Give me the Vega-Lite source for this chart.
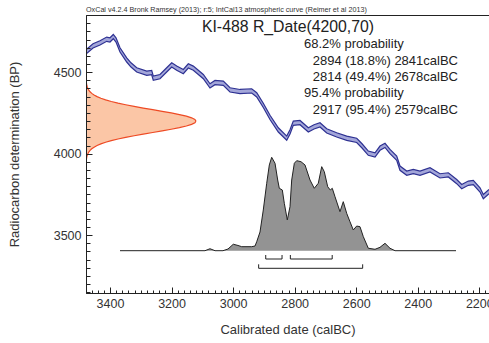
{
  "$schema": "https://vega.github.io/schema/vega-lite/v6.json",
  "width": 403,
  "height": 278,
  "autosize": "none",
  "padding": {"left": 86, "top": 15, "right": 0, "bottom": 50},
  "background": "white",
  "title": {"text": "OxCal v4.2.4 Bronk Ramsey (2013); r:5; IntCal13 atmospheric curve (Reimer et al 2013)", "anchor": "start", "frame": "group", "fontSize": 7.2, "font": "Liberation Sans", "fontWeight": "normal", "color": "#333", "offset": 1},
  "datasets": {
    "curve": [
      {"yr": 3478.0, "bp": 4624.5, "e": 13}, {"yr": 3455.2, "bp": 4661.4, "e": 13}, {"yr": 3432.5, "bp": 4679.8, "e": 13},
      {"yr": 3410.7, "bp": 4702.5, "e": 13}, {"yr": 3400.0, "bp": 4698.2, "e": 13}, {"yr": 3389.3, "bp": 4718.4, "e": 13},
      {"yr": 3380.5, "bp": 4698.2, "e": 13}, {"yr": 3367.5, "bp": 4636.8, "e": 13}, {"yr": 3345.7, "bp": 4575.5, "e": 13},
      {"yr": 3331.8, "bp": 4544.8, "e": 13}, {"yr": 3313.2, "bp": 4514.1, "e": 13}, {"yr": 3280.7, "bp": 4493.9, "e": 13},
      {"yr": 3264.5, "bp": 4497.5, "e": 13}, {"yr": 3259.3, "bp": 4463.2, "e": 13}, {"yr": 3237.6, "bp": 4473.0, "e": 13},
      {"yr": 3215.8, "bp": 4514.1, "e": 13}, {"yr": 3199.5, "bp": 4544.8, "e": 13}, {"yr": 3183.3, "bp": 4524.5, "e": 13},
      {"yr": 3161.8, "bp": 4503.7, "e": 13}, {"yr": 3145.6, "bp": 4538.7, "e": 13}, {"yr": 3129.3, "bp": 4524.5, "e": 13},
      {"yr": 3096.8, "bp": 4473.0, "e": 13}, {"yr": 3075.1, "bp": 4416.0, "e": 13}, {"yr": 3058.8, "bp": 4436.2, "e": 13},
      {"yr": 3031.8, "bp": 4432.5, "e": 13}, {"yr": 3010.1, "bp": 4391.4, "e": 13}, {"yr": 2977.6, "bp": 4381.0, "e": 13},
      {"yr": 2939.6, "bp": 4385.3, "e": 13}, {"yr": 2923.3, "bp": 4360.7, "e": 13}, {"yr": 2901.9, "bp": 4296.3, "e": 13},
      {"yr": 2880.1, "bp": 4222.7, "e": 13}, {"yr": 2853.1, "bp": 4146.0, "e": 13}, {"yr": 2825.8, "bp": 4095.1, "e": 13},
      {"yr": 2815.1, "bp": 4133.7, "e": 13}, {"yr": 2804.4, "bp": 4187.1, "e": 13}, {"yr": 2782.6, "bp": 4190.8, "e": 13},
      {"yr": 2755.6, "bp": 4146.0, "e": 13}, {"yr": 2737.1, "bp": 4164.4, "e": 13}, {"yr": 2717.6, "bp": 4176.7, "e": 13},
      {"yr": 2695.8, "bp": 4139.9, "e": 13}, {"yr": 2663.4, "bp": 4115.3, "e": 13}, {"yr": 2630.9, "bp": 4095.1, "e": 13},
      {"yr": 2598.4, "bp": 4081.6, "e": 13}, {"yr": 2581.1, "bp": 4047.9, "e": 13}, {"yr": 2560.7, "bp": 4003.1, "e": 13},
      {"yr": 2538.9, "bp": 3992.6, "e": 13}, {"yr": 2522.7, "bp": 4033.7, "e": 13}, {"yr": 2506.4, "bp": 4050.9, "e": 13},
      {"yr": 2490.2, "bp": 4012.9, "e": 13}, {"yr": 2468.4, "bp": 3972.4, "e": 13}, {"yr": 2457.7, "bp": 3911.0, "e": 13},
      {"yr": 2435.9, "bp": 3880.4, "e": 13}, {"yr": 2414.5, "bp": 3890.2, "e": 13}, {"yr": 2392.7, "bp": 3880.4, "e": 13},
      {"yr": 2360.2, "bp": 3900.6, "e": 13}, {"yr": 2327.7, "bp": 3863.8, "e": 13}, {"yr": 2300.7, "bp": 3869.9, "e": 13},
      {"yr": 2273.4, "bp": 3828.8, "e": 13}, {"yr": 2257.2, "bp": 3798.1, "e": 13}, {"yr": 2235.7, "bp": 3819.0, "e": 13},
      {"yr": 2219.5, "bp": 3822.7, "e": 13}, {"yr": 2197.7, "bp": 3777.9, "e": 13}, {"yr": 2187.0, "bp": 3736.8, "e": 13},
      {"yr": 2168.5, "bp": 3767.5, "e": 13}
    ],
    "rdate": [
      {"half": "lo", "bp": 3900, "h": 0.0001}, {"half": "lo", "bp": 3920, "h": 0.0003}, {"half": "lo", "bp": 3940, "h": 0.001}, {"half": "lo", "bp": 3960, "h": 0.0028},
      {"half": "lo", "bp": 3980, "h": 0.0072}, {"half": "lo", "bp": 3990, "h": 0.0111}, {"half": "lo", "bp": 4000, "h": 0.0169}, {"half": "lo", "bp": 4010, "h": 0.0252},
      {"half": "lo", "bp": 4020, "h": 0.0367}, {"half": "lo", "bp": 4030, "h": 0.0524}, {"half": "lo", "bp": 4040, "h": 0.0734}, {"half": "lo", "bp": 4050, "h": 0.1007},
      {"half": "lo", "bp": 4060, "h": 0.1353}, {"half": "lo", "bp": 4070, "h": 0.1783}, {"half": "lo", "bp": 4080, "h": 0.2301}, {"half": "lo", "bp": 4090, "h": 0.2909},
      {"half": "lo", "bp": 4100, "h": 0.3604}, {"half": "lo", "bp": 4110, "h": 0.4376}, {"half": "lo", "bp": 4120, "h": 0.5204}, {"half": "lo", "bp": 4130, "h": 0.6065},
      {"half": "lo", "bp": 4140, "h": 0.6926}, {"half": "lo", "bp": 4150, "h": 0.7748}, {"half": "lo", "bp": 4160, "h": 0.8494}, {"half": "lo", "bp": 4170, "h": 0.9123},
      {"half": "lo", "bp": 4180, "h": 0.96}, {"half": "lo", "bp": 4190, "h": 0.9899}, {"half": "lo", "bp": 4200, "h": 1.0},
      {"half": "hi", "bp": 4200, "h": 1.0},
      {"half": "hi", "bp": 4210, "h": 0.9899}, {"half": "hi", "bp": 4220, "h": 0.96}, {"half": "hi", "bp": 4230, "h": 0.9123}, {"half": "hi", "bp": 4240, "h": 0.8494},
      {"half": "hi", "bp": 4250, "h": 0.7748}, {"half": "hi", "bp": 4260, "h": 0.6926}, {"half": "hi", "bp": 4270, "h": 0.6065}, {"half": "hi", "bp": 4280, "h": 0.5204},
      {"half": "hi", "bp": 4290, "h": 0.4376}, {"half": "hi", "bp": 4300, "h": 0.3604}, {"half": "hi", "bp": 4310, "h": 0.2909}, {"half": "hi", "bp": 4320, "h": 0.2301},
      {"half": "hi", "bp": 4330, "h": 0.1783}, {"half": "hi", "bp": 4340, "h": 0.1353}, {"half": "hi", "bp": 4350, "h": 0.1007}, {"half": "hi", "bp": 4360, "h": 0.0734},
      {"half": "hi", "bp": 4370, "h": 0.0524}, {"half": "hi", "bp": 4380, "h": 0.0367}, {"half": "hi", "bp": 4390, "h": 0.0252}, {"half": "hi", "bp": 4400, "h": 0.0169},
      {"half": "hi", "bp": 4410, "h": 0.0111}, {"half": "hi", "bp": 4420, "h": 0.0072}, {"half": "hi", "bp": 4440, "h": 0.0028}, {"half": "hi", "bp": 4460, "h": 0.001},
      {"half": "hi", "bp": 4480, "h": 0.0003}, {"half": "hi", "bp": 4500, "h": 0.0001}
    ],
    "calib": [
      {"yr": 3367.5, "p": 0}, {"yr": 3091.3, "p": 0}, {"yr": 3075.1, "p": 0.021}, {"yr": 3058.8, "p": 0},
      {"yr": 3032.8, "p": 0}, {"yr": 3016.6, "p": 0.018}, {"yr": 2999.4, "p": 0.069}, {"yr": 2984.1, "p": 0.056},
      {"yr": 2972.1, "p": 0.043}, {"yr": 2939.6, "p": 0.043}, {"yr": 2928.8, "p": 0.05}, {"yr": 2923.3, "p": 0.096},
      {"yr": 2912.6, "p": 0.2}, {"yr": 2901.9, "p": 0.436}, {"yr": 2890.8, "p": 0.722}, {"yr": 2882.3, "p": 0.918},
      {"yr": 2874.6, "p": 1.0}, {"yr": 2863.8, "p": 0.936}, {"yr": 2855.1, "p": 0.757}, {"yr": 2849.9, "p": 0.668},
      {"yr": 2840.1, "p": 0.65}, {"yr": 2833.6, "p": 0.507}, {"yr": 2823.9, "p": 0.329}, {"yr": 2815.1, "p": 0.471},
      {"yr": 2809.6, "p": 0.757}, {"yr": 2801.1, "p": 0.936}, {"yr": 2793.3, "p": 0.964}, {"yr": 2779.4, "p": 0.953},
      {"yr": 2766.4, "p": 0.918}, {"yr": 2750.1, "p": 0.757}, {"yr": 2736.2, "p": 0.668}, {"yr": 2723.2, "p": 0.722},
      {"yr": 2712.1, "p": 0.9}, {"yr": 2703.7, "p": 0.846}, {"yr": 2692.6, "p": 0.685}, {"yr": 2684.2, "p": 0.65},
      {"yr": 2677.7, "p": 0.668}, {"yr": 2668.9, "p": 0.578}, {"yr": 2652.7, "p": 0.418}, {"yr": 2642.0, "p": 0.525},
      {"yr": 2630.9, "p": 0.4}, {"yr": 2620.2, "p": 0.31}, {"yr": 2609.5, "p": 0.222}, {"yr": 2598.4, "p": 0.264},
      {"yr": 2587.7, "p": 0.257}, {"yr": 2576.9, "p": 0.15}, {"yr": 2560.7, "p": 0.026}, {"yr": 2538.9, "p": 0.015},
      {"yr": 2522.7, "p": 0.036}, {"yr": 2506.4, "p": 0.079}, {"yr": 2490.2, "p": 0.026}, {"yr": 2473.9, "p": 0},
      {"yr": 2275.7, "p": 0}
    ],
    "ranges": [
      {"lvl": 68.2, "from": 2894, "to": 2841},
      {"lvl": 68.2, "from": 2814, "to": 2678},
      {"lvl": 95.4, "from": 2917, "to": 2579}
    ]
  },
  "layer": [
    {
      "data": {"name": "curve"},
      "mark": {"type": "errorband", "band": {"color": "#a3a6d9", "opacity": 1}, "borders": {"color": "#2e3192", "strokeWidth": 1.2, "opacity": 1}, "clip": true},
      "encoding": {
        "x": {"field": "yr", "type": "quantitative", "scale": {"domain": [2168.5, 3478], "reverse": true, "nice": false, "zero": false},
              "axis": {"orient": "bottom", "values": [3400, 3200, 3000, 2800, 2600, 2400, 2200], "format": "d", "tickSize": -6, "labelPadding": 10, "title": "Calibrated date (calBC)", "titlePadding": 14, "zindex": 2}},
        "y": {"field": "bp", "type": "quantitative", "scale": {"domain": [3145, 4851], "nice": false, "zero": false},
              "axis": {"orient": "left", "values": [3500, 4000, 4500], "format": "d", "tickSize": -6, "labelPadding": 11, "title": "Radiocarbon determination (BP)", "titlePadding": 32, "zindex": 2}},
        "yError": {"field": "e"}
      }
    },
    {
      "data": {"name": "rdate"},
      "mark": {"type": "area", "orient": "horizontal", "color": "#fbc6a6", "opacity": 1, "line": {"color": "#ee4a24", "strokeWidth": 1.2}, "clip": true},
      "encoding": {
        "y": {"field": "bp", "type": "quantitative", "scale": {"domain": [3145, 4851], "nice": false, "zero": false},
              "axis": {"orient": "left", "values": [3150, 3200, 3250, 3300, 3350, 3400, 3450, 3500, 3550, 3600, 3650, 3700, 3750, 3800, 3850, 3900, 3950, 4000, 4050, 4100, 4150, 4200, 4250, 4300, 4350, 4400, 4450, 4500, 4550, 4600, 4650, 4700, 4750, 4800, 4850], "labels": false, "domain": false, "tickSize": -4, "title": null, "zindex": 2}},
        "x": {"field": "h", "type": "quantitative", "stack": null, "scale": {"domain": [0, 3.6636], "nice": false, "zero": true}, "axis": null},
        "detail": {"field": "half", "type": "nominal"}
      }
    },
    {
      "data": {"name": "calib"},
      "mark": {"type": "area", "color": "#939393", "opacity": 1, "line": {"color": "#222", "strokeWidth": 1}, "clip": true},
      "encoding": {
        "x": {"field": "yr", "type": "quantitative", "scale": {"domain": [2168.5, 3478], "reverse": true, "nice": false, "zero": false},
              "axis": {"orient": "bottom", "values": [3460, 3440, 3420, 3400, 3380, 3360, 3340, 3320, 3300, 3280, 3260, 3240, 3220, 3200, 3180, 3160, 3140, 3120, 3100, 3080, 3060, 3040, 3020, 3000, 2980, 2960, 2940, 2920, 2900, 2880, 2860, 2840, 2820, 2800, 2780, 2760, 2740, 2720, 2700, 2680, 2660, 2640, 2620, 2600, 2580, 2560, 2540, 2520, 2500, 2480, 2460, 2440, 2420, 2400, 2380, 2360, 2340, 2320, 2300, 2280, 2260, 2240, 2220, 2200, 2180], "labels": false, "domain": false, "tickSize": -3, "title": null, "zindex": 2}},
        "y": {"field": "p", "type": "quantitative", "scale": {"domain": [-0.4531, 2.524], "nice": false, "zero": false}, "axis": null}
      }
    },
    {
      "data": {"name": "ranges"},
      "layer": [
        {
          "mark": {"type": "rule", "color": "#222", "strokeWidth": 1},
          "encoding": {
            "x": {"field": "from", "type": "quantitative", "scale": {"domain": [2168.5, 3478], "reverse": true, "nice": false, "zero": false}, "axis": null},
            "x2": {"field": "to"},
            "y": {"field": "lvl", "type": "quantitative", "scale": {"domain": [68.2, 95.4], "range": [244, 253.3], "nice": false, "zero": false}, "axis": null}
          }
        },
        {
          "transform": [{"fold": ["from", "to"], "as": ["end", "edge"]}],
          "mark": {"type": "rule", "color": "#222", "strokeWidth": 1, "y2Offset": -4},
          "encoding": {
            "x": {"field": "edge", "type": "quantitative", "scale": {"domain": [2168.5, 3478], "reverse": true, "nice": false, "zero": false}, "axis": null},
            "y": {"field": "lvl", "type": "quantitative", "scale": {"domain": [68.2, 95.4], "range": [244, 253.3], "nice": false, "zero": false}, "axis": null},
            "y2": {"field": "lvl"}
          }
        }
      ]
    },
    {
      "data": {"values": [{}]},
      "encoding": {
        "x": {"type": "quantitative", "scale": {"domain": [2168.5, 3478], "reverse": true, "nice": false, "zero": false}, "axis": null},
        "y": {"type": "quantitative", "scale": {"domain": [3145, 4851], "nice": false, "zero": false}, "axis": null}
      },
      "layer": [
        {"mark": {"type": "text", "text": "KI-488 R_Date(4200,70)", "align": "center", "baseline": "alphabetic", "fontSize": 15.8, "color": "#222"},
         "encoding": {"x": {"datum": 2821.6, "type": "quantitative"}, "y": {"datum": 4745, "type": "quantitative"}}},
        {"mark": {"type": "text", "text": "68.2% probability", "align": "left", "baseline": "alphabetic", "fontSize": 13, "color": "#222"},
         "encoding": {"x": {"datum": 2769.6, "type": "quantitative"}, "y": {"datum": 4647, "type": "quantitative"}}},
        {"mark": {"type": "text", "text": "2894 (18.8%) 2841calBC", "align": "left", "baseline": "alphabetic", "fontSize": 13, "color": "#222"},
         "encoding": {"x": {"datum": 2741.3, "type": "quantitative"}, "y": {"datum": 4547, "type": "quantitative"}}},
        {"mark": {"type": "text", "text": "2814 (49.4%) 2678calBC", "align": "left", "baseline": "alphabetic", "fontSize": 13, "color": "#222"},
         "encoding": {"x": {"datum": 2741.3, "type": "quantitative"}, "y": {"datum": 4446, "type": "quantitative"}}},
        {"mark": {"type": "text", "text": "95.4% probability", "align": "left", "baseline": "alphabetic", "fontSize": 13, "color": "#222"},
         "encoding": {"x": {"datum": 2769.6, "type": "quantitative"}, "y": {"datum": 4346, "type": "quantitative"}}},
        {"mark": {"type": "text", "text": "2917 (95.4%) 2579calBC", "align": "left", "baseline": "alphabetic", "fontSize": 13, "color": "#222"},
         "encoding": {"x": {"datum": 2741.3, "type": "quantitative"}, "y": {"datum": 4245, "type": "quantitative"}}}
      ]
    }
  ],
  "resolve": {"scale": {"x": "independent", "y": "independent"}},
  "config": {
    "font": "Liberation Sans",
    "view": {"stroke": "#222", "strokeWidth": 1},
    "text": {"font": "Liberation Sans"},
    "axis": {"labelFont": "Liberation Sans", "titleFont": "Liberation Sans", "labelColor": "#333", "titleColor": "#333", "domainColor": "#222", "tickColor": "#222", "grid": false, "labelFontSize": 12.5, "titleFontSize": 13, "titleFontWeight": "normal", "labelFlush": false, "labelOverlap": false, "labelBound": false}
  }
}
